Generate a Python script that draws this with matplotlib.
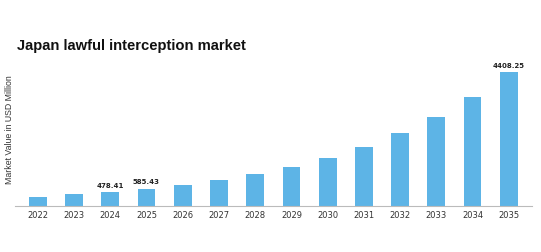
import numpy as np
import matplotlib
matplotlib.use("Agg")
import matplotlib.pyplot as plt

# data
years = ['2022', '2023', '2024', '2025', '2026', '2027', '2028',
         '2029', '2030', '2031', '2032', '2033', '2034', '2035']
values = [316, 395, 478.41, 585.43, 711, 875, 1063,
          1303, 1599, 1961, 2401, 2938, 3596, 4408.25]
labelled = {'2024': '478.41', '2025': '585.43', '2035': '4408.25'}

fig = plt.figure(figsize=(5.41, 2.53), dpi=100)
ax = fig.add_axes([0.0277, 0.1806, 0.955, 0.582])

x = np.arange(len(years))
bars = ax.bar(x, values, width=0.49, color='#5db4e6')

# value labels on a few bars
for i, yr in enumerate(years):
    if yr in labelled:
        ax.annotate(labelled[yr], (x[i], values[i]), xytext=(0, 3),
                    textcoords='offset points', ha='center', va='bottom',
                    fontsize=5, fontweight='bold', color='#222222')

ax.set_xticks(x)
ax.set_xticklabels(years, fontsize=6, color='#333333')
ax.tick_params(axis='x', length=0, pad=3)
ax.set_yticks([])
ax.set_xlim(-0.63, 13.63)
ax.set_ylim(0, 4846)

for s in ['top', 'right', 'left']:
    ax.spines[s].set_visible(False)
ax.spines['bottom'].set_color('#bbbbbb')
ax.spines['bottom'].set_linewidth(0.8)

fig.text(0.0175, 0.486, 'Market Value in USD Million', rotation=90,
         ha='center', va='center', fontsize=6.3, color='#333333',
         family='Liberation Sans')
fig.text(0.031, 0.818, 'Japan lawful interception market', ha='left',
         va='center', fontsize=10.6, fontweight='bold', color='#111111',
         family='Liberation Sans')

fig.savefig('out.png', dpi=100)
